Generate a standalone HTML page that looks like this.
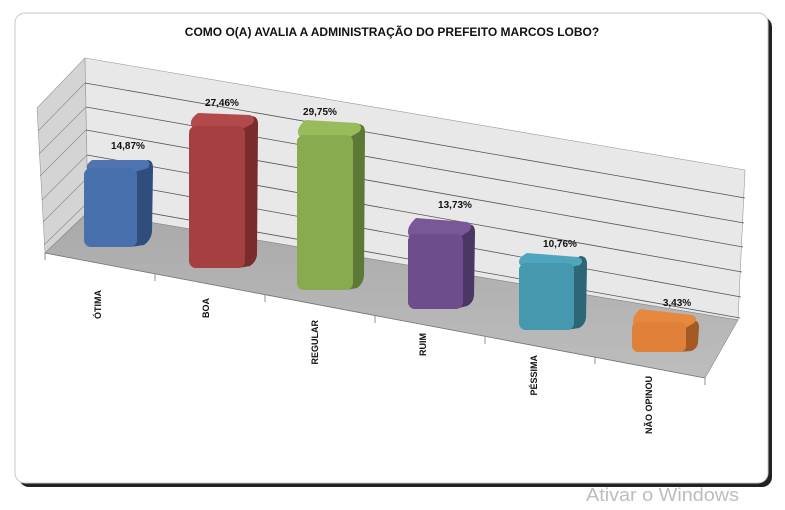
<!DOCTYPE html>
<html><head><meta charset="utf-8"><style>
body{margin:0;background:#fff;width:785px;height:505px;overflow:hidden;font-family:"Liberation Sans",sans-serif}
</style></head><body>
<svg width="785" height="505" viewBox="0 0 785 505" xmlns="http://www.w3.org/2000/svg">
<defs>
<linearGradient id="fl" x1="0" x2="0" y1="0" y2="1"><stop offset="0" stop-color="#a9a9a9"/><stop offset="1" stop-color="#bdbdbd"/></linearGradient>
</defs>
<rect x="19" y="17" width="753" height="470" rx="10" fill="#222"/>
<rect x="15" y="13" width="753" height="470" rx="10" fill="#fff" stroke="#c8c8c8"/>
<text x="392" y="36" text-anchor="middle" font-size="12" font-weight="bold" fill="#111">COMO O(A) AVALIA A ADMINISTRAÇÃO DO PREFEITO MARCOS LOBO?</text>
<polygon points="37,108 85,58 88,212 45,253" fill="#d4d4d4" stroke="#999" stroke-width="0.6"/>
<polygon points="85,58 745,170 738,320 88,212" fill="#e8e8e8" stroke="#999" stroke-width="0.6"/>
<g stroke="#555" stroke-width="0.8">
<line x1="85" y1="83" x2="745" y2="198"/>
<line x1="86" y1="107" x2="744" y2="223"/>
<line x1="86" y1="130" x2="743" y2="247"/>
<line x1="87" y1="155" x2="742" y2="272"/>
<line x1="87" y1="178" x2="741" y2="297"/>
<line x1="88" y1="202" x2="740" y2="318"/>
</g>
<g stroke="#888" stroke-width="0.6">
<line x1="38" y1="131" x2="85" y2="83"/><line x1="39" y1="154" x2="86" y2="107"/>
<line x1="40" y1="176" x2="86" y2="130"/><line x1="42" y1="200" x2="87" y2="155"/>
<line x1="43" y1="222" x2="87" y2="178"/><line x1="44" y1="245" x2="88" y2="202"/>
</g>
<polygon points="88,212 738,320 705,378 45,253" fill="url(#fl)" stroke="#888" stroke-width="0.6"/>
<g stroke="#777" stroke-width="0.8">
<line x1="45" y1="253" x2="705" y2="378"/>
<line x1="45" y1="253" x2="45" y2="260"/><line x1="155" y1="274" x2="155" y2="281"/>
<line x1="265" y1="295" x2="265" y2="302"/><line x1="375" y1="316" x2="375" y2="323"/>
<line x1="485" y1="337" x2="485" y2="344"/><line x1="595" y1="357" x2="595" y2="364"/>
<line x1="705" y1="378" x2="705" y2="385"/>
</g>
<g>
<path d="M130,170 L147,160 Q153,160 153,168 L152,232 Q151,240 144,245 L130,247 Z" fill="#2f4d7d"/>
<path d="M92,160 L145,160 Q152,162 148,168 L135,172 L88,170 Q84,166 92,160Z" fill="#4f74b0"/>
<rect x="84" y="168" width="53" height="79" rx="7" fill="#4770ad"/>

<path d="M238,128 L251,116 Q258,116 258,124 L257,255 Q256,262 250,266 L238,268 Z" fill="#7a2b2d"/>
<path d="M198,113 L250,115 Q257,118 252,124 L240,130 L192,127 Q188,120 198,113Z" fill="#b24a4c"/>
<rect x="189" y="126" width="56" height="142" rx="7" fill="#a63f42"/>

<path d="M346,137 L358,124 Q365,124 365,132 L364,276 Q363,284 357,288 L346,290 Z" fill="#5c7a35"/>
<path d="M306,120 L357,123 Q364,126 359,132 L347,139 L299,136 Q295,128 306,120Z" fill="#98bb5c"/>
<rect x="297" y="135" width="56" height="155" rx="7" fill="#89aa4e"/>

<path d="M455,237 L468,224 Q475,224 475,232 L474,296 Q473,303 467,306 L455,309 Z" fill="#4a3763"/>
<path d="M416,218 L467,222 Q474,225 469,231 L457,239 L409,236 Q405,228 416,218Z" fill="#7a5898"/>
<rect x="408" y="234" width="55" height="75" rx="7" fill="#6e4d8c"/>

<path d="M566,266 L580,256 Q587,256 587,264 L586,318 Q585,325 579,328 L566,330 Z" fill="#2d6677"/>
<path d="M527,253 L578,257 Q585,260 580,265 L568,268 L520,265 Q516,259 527,253Z" fill="#4ea5bd"/>
<rect x="519" y="263" width="55" height="67" rx="7" fill="#4698ae"/>

<path d="M679,330 L692,320 Q699,320 699,327 L698,343 Q697,349 691,351 L679,352 Z" fill="#a35a22"/>
<path d="M640,309 L692,315 Q699,318 694,323 L682,330 L634,326 Q630,318 640,309Z" fill="#e6893f"/>
<rect x="632" y="322" width="54" height="30" rx="6" fill="#e0813a"/>
</g>
<g font-size="10" font-weight="bold" fill="#111" text-anchor="middle">
<text x="128" y="149">14,87%</text><text x="222" y="106">27,46%</text>
<text x="320" y="115">29,75%</text><text x="455" y="208">13,73%</text>
<text x="560" y="247">10,76%</text><text x="677" y="306">3,43%</text>
</g>
<g font-size="9" font-weight="bold" fill="#111" text-anchor="end">
<text transform="translate(101,290) rotate(-90)">ÓTIMA</text>
<text transform="translate(209,298) rotate(-90)">BOA</text>
<text transform="translate(318,320) rotate(-90)">REGULAR</text>
<text transform="translate(426,333) rotate(-90)">RUIM</text>
<text transform="translate(537,355) rotate(-90)">PÉSSIMA</text>
<text transform="translate(652,376) rotate(-90)">NÃO OPINOU</text>
</g>
<text x="586" y="501" font-size="18.5" fill="#bdbdbd" textLength="153" lengthAdjust="spacingAndGlyphs">Ativar o Windows</text>
</svg>
</body></html>
